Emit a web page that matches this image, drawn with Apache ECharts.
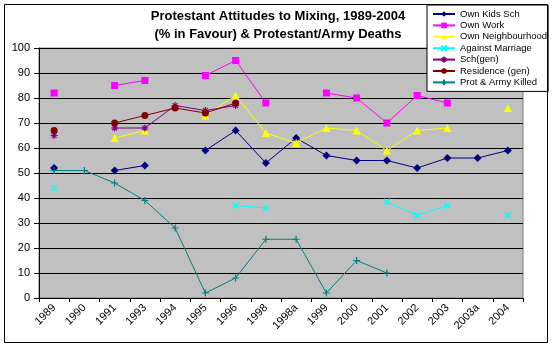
<!DOCTYPE html>
<html>
<head>
<meta charset="utf-8">
<script src="https://cdn.jsdelivr.net/npm/echarts@6/dist/echarts.min.js"></script>
<style>
html,body{margin:0;padding:0;background:#fff;}
#c{width:554px;height:347px;}
</style>
</head>
<body>
<div id="c"></div>
<script>
var categories = ['1989','1990','1991','1993','1994','1995','1996','1998','1998a','1999','2000','2001','2002','2003','2003a','2004'];
var ownKidsSch = [52, null, 51, 53, null, 59, 67, 54, 64, 57, 55, 55, 52, 56, 56, 59];
var ownWork = [82, null, 85, 87, null, 89, 95, 78, null, 82, 80, 70, 81, 78, null, null];
var ownNeighbourhood = [null, null, 64, 67, null, 73, 81, 66, 62, 68, 67, 59, 67, 68, null, 76];
var againstMarriage = [44, null, null, null, null, null, 37, 36, null, null, null, 38.5, 33, 37, null, 33];
var schGen = [65, null, 68, 68, 77, 75, 77, null, null, null, null, null, null, null, null, null];
var residenceGen = [67, null, 70, 73, 76, 74, 78, null, null, null, null, null, null, null, null, null];
var protArmyKilled = [51, 51, 46, 39, 28, 2, 8, 23.5, 23.5, 2, 15, 10, null, null, null, null];
var yTicks = {min: 0, max: 100, interval: 10};

var FONT = '"Liberation Sans", Arial, sans-serif';
var X_SYM = 'path://M0,0 L10,10 M10,0 L0,10';
var AST_SYM = 'path://M5,0 L5,10 M0,5 L10,5 M1.5,1.5 L8.5,8.5 M8.5,1.5 L1.5,8.5';
var PLUS_SYM = 'path://M5,0 L5,10 M0,5 L10,5';

function mk(name, data, color, symbol, size, stroke) {
  return {
    name: name, type: 'line', data: data, connectNulls: false,
    symbol: symbol, symbolSize: size, showAllSymbol: true,
    lineStyle: {color: color, width: 1},
    itemStyle: {color: color, borderColor: color, borderWidth: stroke ? 1.2 : 0},
    emphasis: {disabled: true},
    animation: false
  };
}

var chart = echarts.init(document.getElementById('c'), null, {renderer: 'canvas'});
chart.setOption({
  animation: false,
  backgroundColor: '#ffffff',
  title: {
    text: 'Protestant Attitudes to Mixing, 1989-2004\n(% in Favour) & Protestant/Army Deaths',
    left: 273, top: 2, textAlign: 'center',
    textStyle: {fontFamily: FONT, fontSize: 13, fontWeight: 'bold', color: '#000', lineHeight: 18}
  },
  legend: {
    orient: 'vertical', left: 427, top: 5,
    padding: [4, 1, 4, 5],
    itemWidth: 22, itemHeight: 7, itemGap: 1.4,
    backgroundColor: '#ffffff', borderColor: '#000', borderWidth: 1,
    textStyle: {fontFamily: FONT, fontSize: 9.5, color: '#000'},
    selectedMode: false,
    data: ['Own Kids Sch','Own Work','Own Neighbourhood','Against Marriage','Sch(gen)','Residence (gen)','Prot & Army Killed']
  },
  grid: {
    left: 39, right: 31, top: 48, bottom: 49, show: true,
    backgroundColor: '#C0C0C0', borderColor: '#808080', borderWidth: 1
  },
  xAxis: {
    type: 'category', data: categories, boundaryGap: true,
    axisLine: {lineStyle: {color: '#000', width: 1}},
    axisTick: {show: true, length: 4, lineStyle: {color: '#000'}, alignWithLabel: false},
    axisLabel: {rotate: 45, margin: 8, fontFamily: FONT, fontSize: 11, color: '#000', interval: 0},
    splitLine: {show: false}
  },
  yAxis: {
    type: 'value', min: yTicks.min, max: yTicks.max, interval: yTicks.interval,
    axisLine: {show: true, lineStyle: {color: '#000', width: 1}},
    axisTick: {show: true, length: 5, lineStyle: {color: '#000'}},
    axisLabel: {margin: 9, fontFamily: FONT, fontSize: 11, color: '#000'},
    splitLine: {show: true, lineStyle: {color: '#000', width: 1}}
  },
  graphic: [{
    type: 'rect', shape: {x: 4.5, y: 4.5, width: 543, height: 338},
    style: {fill: null, stroke: '#000', lineWidth: 1}, z: 100, silent: true
  }],
  series: [
    mk('Own Kids Sch', ownKidsSch, '#000080', 'diamond', 8, false),
    mk('Own Work', ownWork, '#FF00FF', 'rect', 7, false),
    mk('Own Neighbourhood', ownNeighbourhood, '#FFFF00', 'triangle', 8, false),
    mk('Against Marriage', againstMarriage, '#00FFFF', X_SYM, 6, true),
    mk('Sch(gen)', schGen, '#800080', AST_SYM, 7, true),
    mk('Residence (gen)', residenceGen, '#800000', 'circle', 7, false),
    mk('Prot & Army Killed', protArmyKilled, '#008080', PLUS_SYM, 7, true)
  ]
});
</script>
</body>
</html>
